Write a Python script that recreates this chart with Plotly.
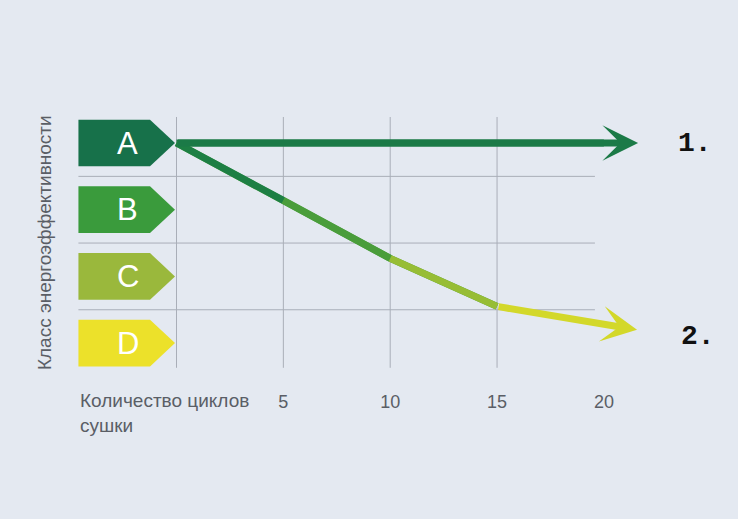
import plotly.graph_objects as go

# energy classes (A best) and their colours
classes = ["A", "B", "C", "D"]
class_level = [4, 3, 2, 1]
class_colors = ["#17714a", "#3a9b3c", "#9ab83c", "#ece12a"]

# x axis ticks (drying cycles)
tick_vals = [5, 10, 15, 20]
tick_text = ["5", "10", "15", "20"]

# line 1: stays in class A
cycles_1 = [0, 20, 21.6]
level_1 = [4, 4, 4]
color_1 = "#1b7a47"

# line 2: drops from A towards D
cycles_2 = [0, 5, 10, 15, 21.55]
level_2 = [4, 3.14, 2.27, 1.55, 1.2]
colors_2 = ["#1d7f44", "#4a9d3b", "#97bd35", "#d3d82a"]

bg = "#e4e9f1"
grid = "#a9aeb8"
txt = "#5a5e66"

fig = go.Figure()

# class arrows (left side)
shapes = []
annotations = []
for c, lv, col in zip(classes, class_level, class_colors):
    h = 0.35
    path = (f"M -4.59,{lv + h} L -1.24,{lv + h} L -0.07,{lv} "
            f"L -1.24,{lv - h} L -4.59,{lv - h} Z")
    shapes.append(dict(type="path", path=path, xref="x", yref="y",
                       fillcolor=col, line=dict(width=0), layer="below"))
    annotations.append(dict(x=-2.27, y=lv, xref="x", yref="y", text=c,
                            showarrow=False,
                            font=dict(family="Liberation Sans", size=31, color="white")))

# grid lines, only inside the chart body
for b in [3.5, 2.5, 1.5]:
    shapes.append(dict(type="line", xref="x", yref="y", x0=-4.59, x1=19.58,
                       y0=b, y1=b, line=dict(color=grid, width=1), layer="below"))
for v in [0, 5, 10, 15]:
    shapes.append(dict(type="line", xref="x", yref="y", x0=v, x1=v,
                       y0=0.63, y1=4.39, line=dict(color=grid, width=1), layer="below"))

# line 1
fig.add_trace(go.Scatter(x=cycles_1[:-1], y=level_1[:-1], mode="lines",
                         line=dict(color=color_1, width=7), hoverinfo="skip"))
annotations.append(dict(x=cycles_1[-1], y=level_1[-1], ax=cycles_1[0], ay=level_1[0],
                        xref="x", yref="y", axref="x", ayref="y", text="",
                        showarrow=True, arrowhead=3, arrowsize=0.85, arrowwidth=7,
                        arrowcolor=color_1))

# line 2: full line underneath so the joints have no notches
fig.add_trace(go.Scatter(x=cycles_2[:-1], y=level_2[:-1], mode="lines",
                         line=dict(color=colors_2[1], width=7), hoverinfo="skip"))
# then segment by segment to fake the colour gradient
for i in range(len(cycles_2) - 2):
    fig.add_trace(go.Scatter(x=cycles_2[i:i + 2], y=level_2[i:i + 2], mode="lines",
                             line=dict(color=colors_2[i], width=7), hoverinfo="skip"))
annotations.append(dict(x=cycles_2[-1], y=level_2[-1], ax=cycles_2[-2], ay=level_2[-2],
                        xref="x", yref="y", axref="x", ayref="y", text="",
                        showarrow=True, arrowhead=3, arrowsize=0.85, arrowwidth=7,
                        arrowcolor=colors_2[-1]))

# labels 1. and 2.
annotations.append(dict(x=24.25, y=level_1[-1], xref="x", yref="y", text="<b>1.</b>",
                        showarrow=False,
                        font=dict(family="Liberation Mono", size=28, color="#111")))
annotations.append(dict(x=24.4, y=level_2[-1] - 0.1, xref="x", yref="y", text="<b>2.</b>",
                        showarrow=False,
                        font=dict(family="Liberation Mono", size=28, color="#111")))

# axis titles
annotations.append(dict(x=-4.59, y=-0.062, xref="x", yref="paper", xanchor="left",
                        yanchor="middle", align="left", showarrow=False,
                        text="Количество циклов<br>сушки",
                        font=dict(family="Liberation Sans", size=19, color=txt)))
annotations.append(dict(x=-6.2, y=2.5, xref="x", yref="y", textangle=-90,
                        showarrow=False, text="Класс энергоэффективности",
                        font=dict(family="Liberation Sans", size=19, color=txt)))

fig.update_layout(
    width=738, height=519,
    margin=dict(l=0, r=0, t=0, b=130),
    paper_bgcolor=bg, plot_bgcolor=bg,
    showlegend=False,
    shapes=shapes,
    annotations=annotations,
    xaxis=dict(range=[-8.259, 26.275], tickvals=tick_vals, ticktext=tick_text,
               showgrid=False, zeroline=False, showline=False, ticks="",
               tickfont=dict(family="Liberation Sans", size=18, color=txt),
               automargin=False, fixedrange=True),
    yaxis=dict(range=[0.312, 6.144], visible=False, fixedrange=True),
)

fig.write_html("out.html", config={"displayModeBar": False},
               post_script="document.body.style.margin='0';")
